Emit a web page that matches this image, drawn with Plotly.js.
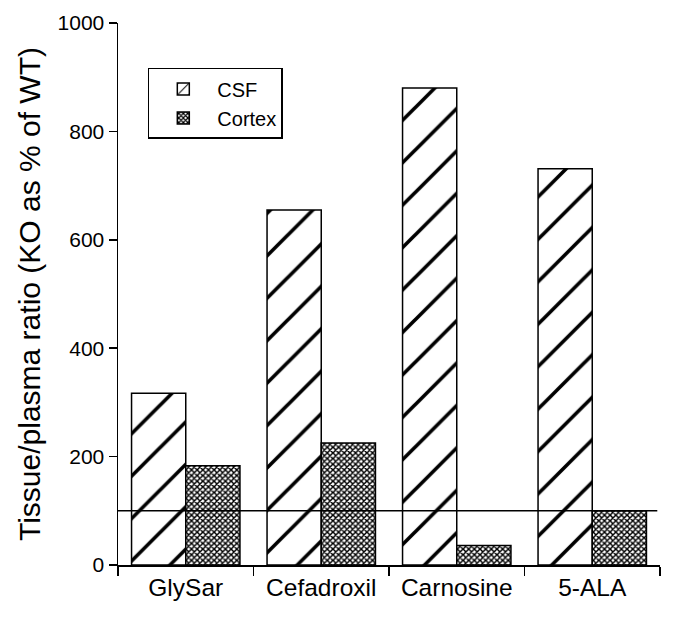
<!DOCTYPE html>
<html>
<head>
<meta charset="utf-8">
<script src="https://cdn.plot.ly/plotly-3.0.1.min.js"></script>
<style>html,body{margin:0;padding:0;background:#fff;}#chart{width:685px;height:620px;}</style>
</head>
<body>
<div id="chart"></div>
<script>
const categories = ["GlySar", "Cefadroxil", "Carnosine", "5-ALA"];
const csfValues = [317, 655, 880, 731];
const cortexValues = [183, 225, 36, 100];
const referenceLevel = 100;
const yTicks = [0, 200, 400, 600, 800, 1000];
const seriesNames = ["CSF", "Cortex"];
const yTitle = "Tissue/plasma ratio (KO as % of WT)";

const font = "Liberation Sans, Arial, sans-serif";

const traces = [
  {
    type: "bar", name: seriesNames[0], x: categories, y: csfValues,
    marker: {
      color: "white",
      line: {color: "black", width: 1.5},
      pattern: {shape: "/", fgcolor: "#000000", bgcolor: "#ffffff", fgopacity: 1, size: 30, solidity: 0.12, fillmode: "replace"}
    }
  },
  {
    type: "bar", name: seriesNames[1], x: categories, y: cortexValues,
    marker: {
      color: "white",
      line: {color: "black", width: 1.5},
      pattern: {shape: "x", fgcolor: "#000000", bgcolor: "#ffffff", fgopacity: 1, size: 4, solidity: 0.6, fillmode: "replace"}
    }
  }
];

const layout = {
  width: 685, height: 620,
  margin: {l: 118, r: 25, t: 23, b: 55},
  paper_bgcolor: "white", plot_bgcolor: "white",
  font: {family: font, color: "black"},
  barmode: "group", bargap: 0.2, bargroupgap: 0,
  showlegend: true,
  legend: {
    x: 0.055, y: 0.917, xanchor: "left", yanchor: "top",
    bordercolor: "black", borderwidth: 1.5, bgcolor: "white",
    font: {size: 20, family: font, color: "black"},
    itemwidth: 58
  },
  xaxis: {
    type: "category", range: [-0.5, 3.5],
    showline: true, linecolor: "black", linewidth: 1.5,
    ticks: "outside", tickson: "boundaries", ticklen: 9, tickwidth: 1.5, tickcolor: "black",
    tickfont: {size: 24.5, family: font, color: "black"},
    showgrid: false, zeroline: false
  },
  yaxis: {
    range: [0, 1000], tickvals: yTicks,
    showline: true, linecolor: "black", linewidth: 1.5,
    ticks: "outside", ticklen: 8, tickwidth: 1.5, tickcolor: "black",
    tickfont: {size: 21, family: font, color: "black"},
    showgrid: false, zeroline: false,
    title: {text: yTitle, font: {size: 30, family: font, color: "black"}, standoff: 8}
  },
  shapes: [{
    type: "line", xref: "paper", yref: "y", x0: 0, x1: 0.995, y0: referenceLevel, y1: referenceLevel,
    line: {color: "black", width: 1.5}, layer: "above"
  }]
};

Plotly.newPlot("chart", traces, layout, {displayModeBar: false, staticPlot: true});
</script>
</body>
</html>
